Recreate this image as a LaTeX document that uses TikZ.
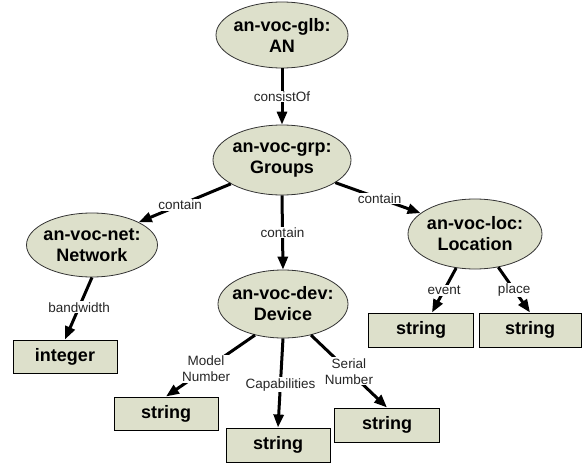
\documentclass[tikz,border=0pt]{standalone}
\usepackage{fontspec}
\setmainfont{Liberation Sans}
\usetikzlibrary{shapes.geometric,arrows.meta}
\definecolor{nodefill}{RGB}{221,224,203}
\begin{document}
\begin{tikzpicture}[x=1pt,y=-1pt,
  ell/.style={ellipse,draw=black!80,line width=0.8pt,fill=nodefill,inner xsep=-20pt,inner ysep=-12pt,
    font=\fontsize{18}{21}\selectfont\bfseries,align=center},
  box/.style={rectangle,draw=black,line width=1pt,fill=nodefill,inner sep=0pt,
    minimum width=104pt,minimum height=33pt,font=\fontsize{18}{21}\selectfont\bfseries},
  conn/.style={line width=3pt,-{Triangle[length=13pt,width=10pt]}},
  lbl/.style={fill=white,inner sep=1pt,font=\fontsize{13.5}{16}\selectfont,align=center,text=black!85}]
\path[use as bounding box,fill=white] (0,0) rectangle (582,463);

\node[ell,minimum width=132pt,minimum height=66pt] (an) at (282,35) {an-voc-glb:\\AN};
\node[ell,minimum width=138pt,minimum height=70pt] (grp) at (282,160) {an-voc-grp:\\Groups};
\node[ell,minimum width=131pt,minimum height=64pt] (net) at (92,245) {an-voc-net:\\Network};
\node[ell,minimum width=134pt,minimum height=70pt] (loc) at (475,234) {an-voc-loc:\\Location};
\node[ell,minimum width=130pt,minimum height=68pt] (dev) at (283,304) {an-voc-dev:\\Device};

\node[box] (int) at (65,356.5) {integer};
\node[box,minimum width=105pt,minimum height=34pt] (ev) at (421,330) {string};
\node[box,minimum width=102pt,minimum height=34pt] (pl) at (530,330) {string};
\node[box] (md) at (166,413.5) {string};
\node[box,minimum height=34pt] (cap) at (278,445) {string};
\node[box,minimum width=105pt,minimum height=34pt] (ser) at (387,425) {string};

\draw[conn] (an.south) -- node[lbl,pos=0.5] (l1) {consistOf} (grp.north);
\draw[conn] (grp.205) -- node[lbl,pos=0.55] (l2) {contain} (net.26);
\draw[conn] (grp.-23) -- node[lbl,pos=0.52] (l3) {contain} (loc.159);
\draw[conn] (grp.south) -- node[lbl,pos=0.5] (l4) {contain} (dev.north);
\draw[conn] (net.south) -- node[lbl,pos=0.48] (l5) {bandwidth} (int.north);
\draw[conn] (loc.241) -- node[lbl,pos=0.5] (l6) {event} ([xshift=11pt]ev.north);
\draw[conn] (loc.305) -- node[lbl,pos=0.5] (l7) {place} (pl.north);
\draw[conn] (dev.228) -- node[lbl,pos=0.55] (l8) {Model\\Number} (md.north);
\draw[conn] (dev.south) -- node[lbl,pos=0.52] (l9) {Capabilities} (cap.north);
\draw[conn] (dev.312) -- node[lbl,pos=0.5] (l10) {Serial\\Number} (ser.north);
\end{tikzpicture}
\end{document}
